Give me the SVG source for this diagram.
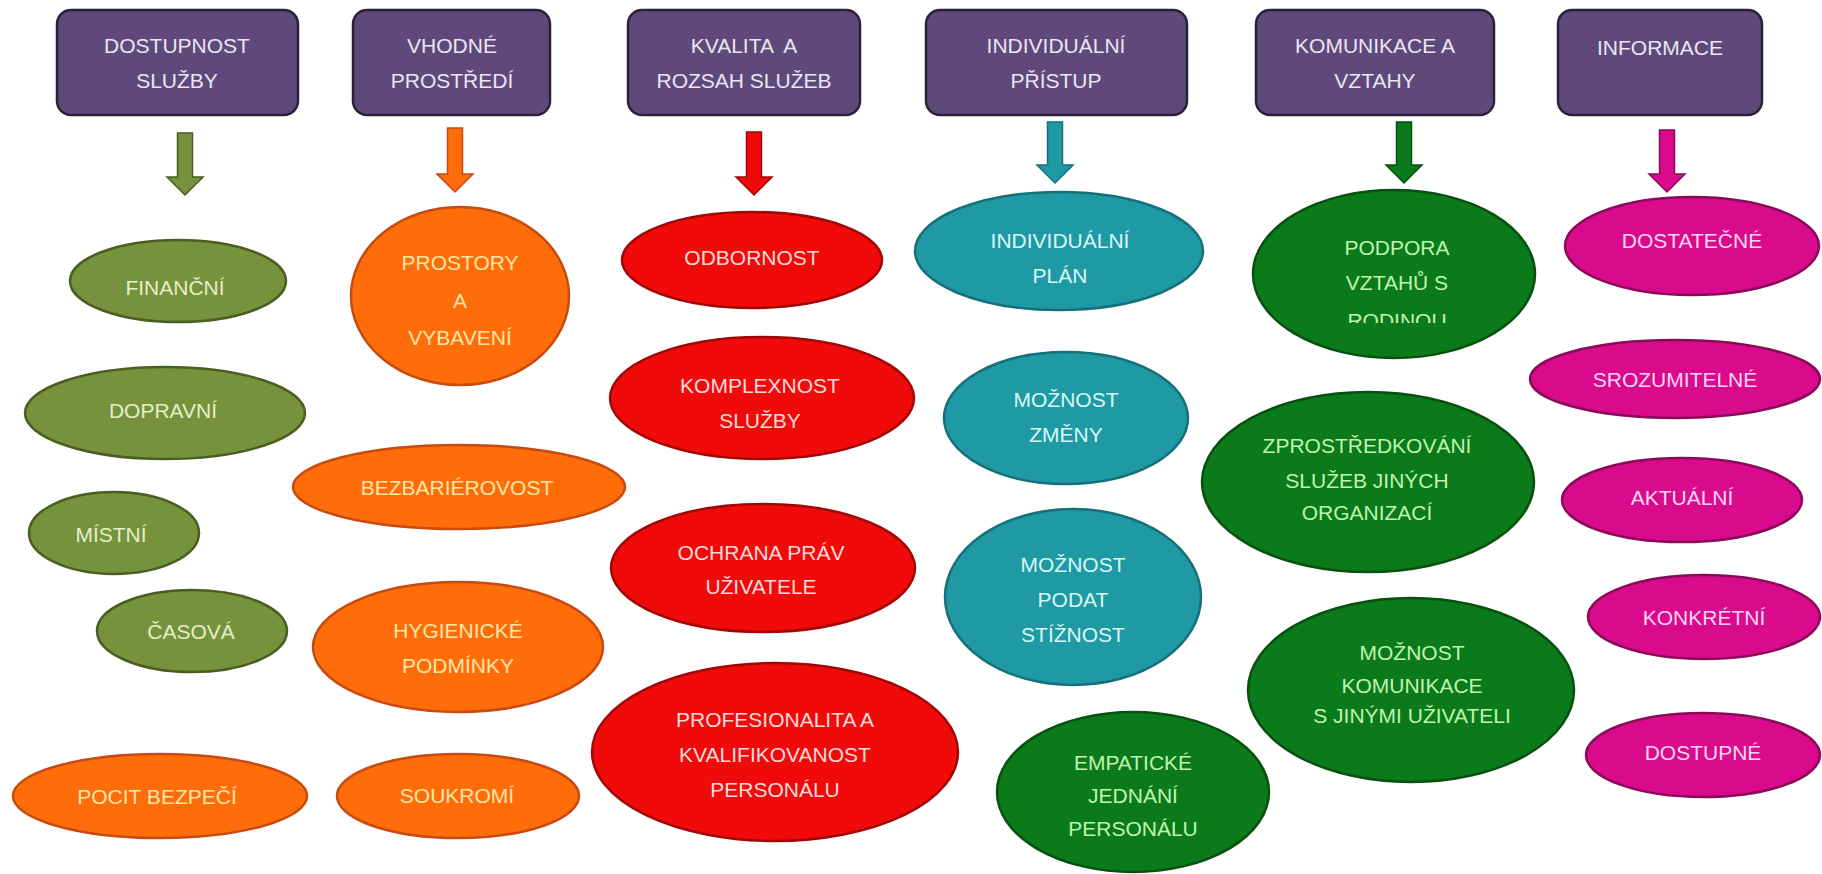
<svg xmlns="http://www.w3.org/2000/svg" width="1822" height="874" viewBox="0 0 1822 874">
<defs>
<style>
text{font-family:"Liberation Sans",Arial,sans-serif;font-size:21px;text-anchor:middle}
.hdr rect{fill:#5f497a;stroke:#2a2238;stroke-width:2.5}
.hdr text{fill:#ece4f4}
.ol ellipse{fill:#76923c;stroke:#4a5e22;stroke-width:2.5}
.ol text{fill:#e4efc8}
.or ellipse{fill:#ff6d0a;stroke:#c84a10;stroke-width:2.5}
.or text{fill:#ffe6a8}
.rd ellipse{fill:#f00a0a;stroke:#a00808;stroke-width:2.5}
.rd text{fill:#ffdada}
.tl ellipse{fill:#1f9aa4;stroke:#15707a;stroke-width:2.5}
.tl text{fill:#d8f8f8}
.gr ellipse{fill:#0b7a1a;stroke:#075010;stroke-width:2.5}
.gr text{fill:#bff5ae}
.mg ellipse{fill:#da0a8c;stroke:#8a0a58;stroke-width:2.5}
.mg text{fill:#ffd6f2}
.arr path{stroke-width:1.5}
</style>
<clipPath id="clipRod"><rect x="1250" y="180" width="300" height="143"/></clipPath>
</defs>
<rect width="1822" height="874" fill="#ffffff"/>

<g id="connectors" class="arr">
<path d="M177.5,133 H192.5 V177 H203 L185,195 L167,177 H177.5 Z" fill="#76923c" stroke="#4a5e22"/>
<path d="M447.5,128 H462.5 V174 H473 L455,192 L437,174 H447.5 Z" fill="#ff6d0a" stroke="#c84a10"/>
<path d="M746.5,132 H761.5 V177 H772 L754,195 L736,177 H746.5 Z" fill="#f00a0a" stroke="#a00808"/>
<path d="M1047.5,122 H1062.5 V165 H1073 L1055,183 L1037,165 H1047.5 Z" fill="#1f9aa4" stroke="#15707a"/>
<path d="M1396.5,122 H1411.5 V165 H1422 L1404,183 L1386,165 H1396.5 Z" fill="#0b7a1a" stroke="#075010"/>
<path d="M1659.5,130 H1674.5 V174 H1685 L1667,192 L1649,174 H1659.5 Z" fill="#da0a8c" stroke="#8a0a58"/>
</g>

<g id="h-dostupnost" class="hdr"><rect x="57" y="10" width="241" height="105" rx="14"/><text x="177" y="53">DOSTUPNOST</text><text x="177" y="88">SLUŽBY</text></g>
<g id="h-prostredi" class="hdr"><rect x="353" y="10" width="197" height="105" rx="14"/><text x="452" y="53">VHODNÉ</text><text x="452" y="88">PROSTŘEDÍ</text></g>
<g id="h-kvalita" class="hdr"><rect x="628" y="10" width="232" height="105" rx="14"/><text x="744" y="53" xml:space="preserve">KVALITA  A</text><text x="744" y="88">ROZSAH SLUŽEB</text></g>
<g id="h-individualni" class="hdr"><rect x="926" y="10" width="261" height="105" rx="14"/><text x="1056" y="53">INDIVIDUÁLNÍ</text><text x="1056" y="88">PŘÍSTUP</text></g>
<g id="h-komunikace" class="hdr"><rect x="1256" y="10" width="238" height="105" rx="14"/><text x="1375" y="53">KOMUNIKACE A</text><text x="1375" y="88">VZTAHY</text></g>
<g id="h-informace" class="hdr"><rect x="1558" y="10" width="204" height="105" rx="14"/><text x="1660" y="55">INFORMACE</text></g>

<g id="n-financni" class="ol"><ellipse cx="178" cy="281" rx="108" ry="41"/><text x="175" y="295">FINANČNÍ</text></g>
<g id="n-dopravni" class="ol"><ellipse cx="165" cy="413" rx="140" ry="46"/><text x="163" y="418">DOPRAVNÍ</text></g>
<g id="n-mistni" class="ol"><ellipse cx="114" cy="533" rx="85" ry="41"/><text x="111" y="542">MÍSTNÍ</text></g>
<g id="n-casova" class="ol"><ellipse cx="192" cy="631" rx="95" ry="41"/><text x="191" y="639">ČASOVÁ</text></g>

<g id="n-pocit" class="or"><ellipse cx="160" cy="796" rx="147" ry="42"/><text x="157" y="804">POCIT BEZPEČÍ</text></g>
<g id="n-prostory" class="or"><ellipse cx="460" cy="296" rx="109" ry="89"/><text x="460" y="270">PROSTORY</text><text x="460" y="308">A</text><text x="460" y="345">VYBAVENÍ</text></g>
<g id="n-bezbarierovost" class="or"><ellipse cx="459" cy="487" rx="166" ry="42"/><text x="457" y="495">BEZBARIÉROVOST</text></g>
<g id="n-hygienicke" class="or"><ellipse cx="458" cy="647" rx="145" ry="65"/><text x="458" y="638">HYGIENICKÉ</text><text x="458" y="673">PODMÍNKY</text></g>
<g id="n-soukromi" class="or"><ellipse cx="458" cy="796" rx="121" ry="42"/><text x="457" y="803">SOUKROMÍ</text></g>

<g id="n-odbornost" class="rd"><ellipse cx="752" cy="260" rx="130" ry="48"/><text x="752" y="265">ODBORNOST</text></g>
<g id="n-komplexnost" class="rd"><ellipse cx="762" cy="398" rx="152" ry="61"/><text x="760" y="393">KOMPLEXNOST</text><text x="760" y="428">SLUŽBY</text></g>
<g id="n-ochrana" class="rd"><ellipse cx="763" cy="568" rx="152" ry="64"/><text x="761" y="560">OCHRANA PRÁV</text><text x="761" y="594">UŽIVATELE</text></g>
<g id="n-profesionalita" class="rd"><ellipse cx="775" cy="752" rx="183" ry="89"/><text x="775" y="727">PROFESIONALITA A</text><text x="775" y="762">KVALIFIKOVANOST</text><text x="775" y="797">PERSONÁLU</text></g>

<g id="n-ind-plan" class="tl"><ellipse cx="1059" cy="251" rx="144" ry="59"/><text x="1060" y="248">INDIVIDUÁLNÍ</text><text x="1060" y="283">PLÁN</text></g>
<g id="n-zmeny" class="tl"><ellipse cx="1066" cy="418" rx="122" ry="66"/><text x="1066" y="407">MOŽNOST</text><text x="1066" y="442">ZMĚNY</text></g>
<g id="n-stiznost" class="tl"><ellipse cx="1073" cy="597" rx="128" ry="88"/><text x="1073" y="572">MOŽNOST</text><text x="1073" y="607">PODAT</text><text x="1073" y="642">STÍŽNOST</text></g>

<g id="n-empaticke" class="gr"><ellipse cx="1133" cy="792" rx="136" ry="80"/><text x="1133" y="770">EMPATICKÉ</text><text x="1133" y="803">JEDNÁNÍ</text><text x="1133" y="836">PERSONÁLU</text></g>
<g id="n-podpora" class="gr"><ellipse cx="1394" cy="274" rx="141" ry="84"/><text x="1397" y="255">PODPORA</text><text x="1397" y="290">VZTAHŮ S</text><text x="1397" y="328" clip-path="url(#clipRod)">RODINOU</text></g>
<g id="n-zprostredkovani" class="gr"><ellipse cx="1368" cy="482" rx="166" ry="90"/><text x="1367" y="453">ZPROSTŘEDKOVÁNÍ</text><text x="1367" y="488">SLUŽEB JINÝCH</text><text x="1367" y="520">ORGANIZACÍ</text></g>
<g id="n-moznost-kom" class="gr"><ellipse cx="1411" cy="690" rx="163" ry="92"/><text x="1412" y="660">MOŽNOST</text><text x="1412" y="693">KOMUNIKACE</text><text x="1412" y="723">S JINÝMI UŽIVATELI</text></g>

<g id="n-dostatecne" class="mg"><ellipse cx="1692" cy="246" rx="127" ry="49"/><text x="1692" y="248">DOSTATEČNÉ</text></g>
<g id="n-srozumitelne" class="mg"><ellipse cx="1675" cy="379" rx="145" ry="39"/><text x="1675" y="387">SROZUMITELNÉ</text></g>
<g id="n-aktualni" class="mg"><ellipse cx="1682" cy="500" rx="120" ry="42"/><text x="1682" y="505">AKTUÁLNÍ</text></g>
<g id="n-konkretni" class="mg"><ellipse cx="1704" cy="617" rx="116" ry="42"/><text x="1704" y="625">KONKRÉTNÍ</text></g>
<g id="n-dostupne" class="mg"><ellipse cx="1703" cy="755" rx="117" ry="42"/><text x="1703" y="760">DOSTUPNÉ</text></g>
</svg>
